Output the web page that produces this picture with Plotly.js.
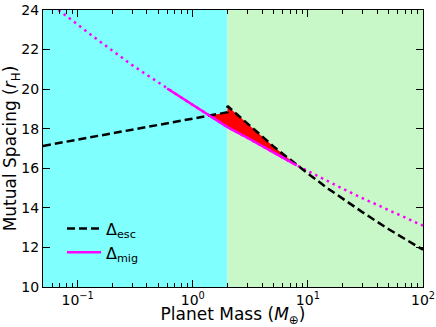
<!DOCTYPE html>
<html>
<head>
<meta charset="utf-8">
<script src="https://cdn.plot.ly/plotly-3.0.1.min.js"></script>
<style>
  html, body { margin: 0; padding: 0; background: #fff; }
  #chart { width: 436px; height: 327px; }
</style>
</head>
<body>
<div id="chart"></div>
<script>
// planet mass in Earth masses, spacing in mutual Hill radii
const escMass    = [0.05, 0.1, 0.2, 0.5, 1, 1.4, 2, 2, 3, 4, 5, 6, 8, 10, 15, 20, 30, 50, 70, 100];
const escSpacing = [17.13, 17.45, 17.77, 18.19, 18.51, 18.66, 18.83, 19.15, 18.23, 17.6, 17.12, 16.75, 16.17, 15.74, 14.97, 14.46, 13.77, 12.93, 12.41, 11.88];

const migMass    = [0.05, 0.07, 0.1, 0.15, 0.2, 0.3, 0.4, 0.6, 0.8, 1, 1.4, 2, 3, 4, 5, 6, 8, 10, 15, 20, 30, 50, 70, 100];
const migSpacing = [24.6, 23.94, 23.25, 22.48, 21.95, 21.2, 20.72, 20.03, 19.56, 19.2, 18.67, 18.08, 17.53, 17.11, 16.8, 16.55, 16.15, 15.86, 15.34, 14.97, 14.48, 13.88, 13.5, 13.1];

// where the migration curve is drawn solid, and the shaded overlap window
const migSolid = [0.6, 8];
const overlap = [1.4, 8];

const massRange = [0.05, 100];
const regimeSplit = 2;

const xTickVals = [0.1, 1, 10, 100];
const xTickText = ['10<sup>\u22121</sup>', '10<sup>0</sup>', '10<sup>1</sup>', '10<sup>2</sup>'];
const xMinorVals = [0.06, 0.07, 0.08, 0.09, 0.2, 0.3, 0.4, 0.5, 0.6, 0.7, 0.8, 0.9,
	2, 3, 4, 5, 6, 7, 8, 9, 20, 30, 40, 50, 60, 70, 80, 90];

function inWindow(xs, ys, lo, hi) {
	let ox = [], oy = [];
	for (let i = 0; i < xs.length; i++) {
		if (xs[i] >= lo && xs[i] <= hi) { ox.push(xs[i]); oy.push(ys[i]); }
	}
	return {x: ox, y: oy};
}

let escWin = inWindow(escMass, escSpacing, overlap[0], overlap[1]);
let migWin = inWindow(migMass, migSpacing, overlap[0], overlap[1]);
let fillTrace = {
	x: escWin.x.concat(migWin.x.slice().reverse()),
	y: escWin.y.concat(migWin.y.slice().reverse()),
	mode: 'lines',
	fill: 'toself',
	fillcolor: '#ff0000',
	line: {width: 0, color: '#ff0000'},
	showlegend: false,
	hoverinfo: 'skip'
};

let migDotted = {
	x: migMass, y: migSpacing,
	mode: 'lines',
	line: {color: '#ff00ff', width: 2.5, dash: '2.5px,4px'},
	showlegend: false
};

let solid = inWindow(migMass, migSpacing, migSolid[0], migSolid[1]);
let migLine = {
	x: solid.x, y: solid.y,
	mode: 'lines',
	name: '\u0394<sub>mig</sub>',
	line: {color: '#ff00ff', width: 2.5}
};

let escLine = {
	x: escMass, y: escSpacing,
	mode: 'lines',
	name: '\u0394<sub>esc</sub>',
	line: {color: '#000000', width: 2.5, dash: '8px,4px'}
};

// empty trace so the minor-tick overlay axis gets drawn
let minorHolder = {
	x: massRange, y: [10, 10], xaxis: 'x2', mode: 'none',
	showlegend: false, hoverinfo: 'skip'
};

let tickFont = {family: 'DejaVu Sans', size: 14, color: '#000'};
let titleFont = {family: 'DejaVu Sans', size: 17, color: '#000'};
let logRange = [Math.log10(massRange[0]), Math.log10(massRange[1])];

let layout = {
	width: 436, height: 327,
	margin: {l: 43, r: 13, t: 10, b: 40},
	paper_bgcolor: '#ffffff',
	plot_bgcolor: '#ffffff',
	font: {family: 'DejaVu Sans', color: '#000'},
	showlegend: true,
	legend: {
		x: 0.05, y: 0.272, xanchor: 'left', yanchor: 'top',
		bgcolor: 'rgba(0,0,0,0)',
		itemwidth: 34,
		font: {family: 'DejaVu Sans', size: 16, color: '#000'},
		tracegroupgap: 0
	},
	xaxis: {
		type: 'log', range: logRange,
		tickvals: xTickVals, ticktext: xTickText,
		ticks: 'inside', ticklen: 7, tickwidth: 1, tickcolor: '#000',
		showline: true, linecolor: '#000', linewidth: 1, mirror: 'ticks',
		showgrid: false, zeroline: false,
		tickfont: tickFont,
		title: {text: 'Planet Mass (<i>M</i><sub>\u2295</sub>)', font: titleFont, standoff: 9}
	},
	xaxis2: {
		type: 'log', range: logRange, overlaying: 'x', anchor: 'y', side: 'bottom',
		tickvals: xMinorVals, showticklabels: false,
		ticks: 'inside', ticklen: 4, tickwidth: 1, tickcolor: '#000',
		showline: true, linecolor: '#000', linewidth: 1, mirror: 'ticks',
		showgrid: false, zeroline: false
	},
	yaxis: {
		range: [10, 24], dtick: 2,
		ticks: 'inside', ticklen: 7, tickwidth: 1, tickcolor: '#000',
		showline: true, linecolor: '#000', linewidth: 1, mirror: 'ticks',
		showgrid: false, zeroline: false,
		tickfont: tickFont,
		title: {text: 'Mutual Spacing (<i>r</i><sub>H</sub>)', font: titleFont, standoff: 6}
	},
	shapes: [
		{type: 'rect', layer: 'below', xref: 'x', yref: 'paper', x0: massRange[0], x1: regimeSplit, y0: 0, y1: 1, fillcolor: '#80ffff', line: {width: 0}},
		{type: 'rect', layer: 'below', xref: 'x', yref: 'paper', x0: regimeSplit, x1: massRange[1], y0: 0, y1: 1, fillcolor: '#c8f7c8', line: {width: 0}}
	]
};

Plotly.newPlot('chart', [fillTrace, migDotted, escLine, migLine, minorHolder], layout, {displayModeBar: false, staticPlot: true});
</script>
</body>
</html>
